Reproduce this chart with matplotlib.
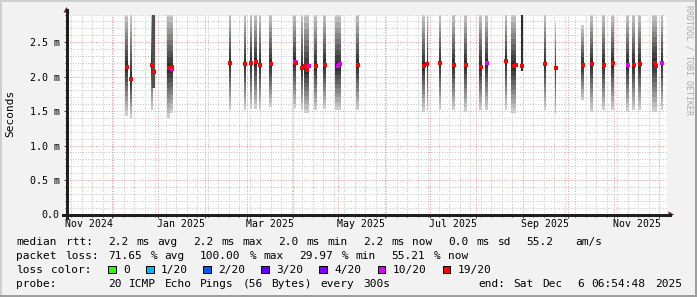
import re
import numpy as np
import pandas as pd
import matplotlib
matplotlib.use('Agg')
import matplotlib.pyplot as plt
import matplotlib.dates as mdates
import matplotlib.transforms as mtrans
from matplotlib.ticker import MultipleLocator, FuncFormatter
from matplotlib.patches import Rectangle, Polygon
from matplotlib.lines import Line2D

W, H = 697, 297
MONO = 'DejaVu Sans Mono'

# ---------------- data ----------------
graph_end = pd.Timestamp('2025-12-06 06:54:48')
graph_days = 400

smoke_date = ['2024-12-11', '2024-12-14', '2024-12-28', '2025-01-08', '2025-01-10',
              '2025-02-18', '2025-02-28', '2025-03-04', '2025-03-07', '2025-03-10',
              '2025-03-17', '2025-04-02', '2025-04-07', '2025-04-10', '2025-04-16',
              '2025-04-22', '2025-05-01', '2025-05-14', '2025-06-27', '2025-06-29 12:00',
              '2025-07-08', '2025-07-17', '2025-07-25', '2025-08-04', '2025-08-08',
              '2025-08-21', '2025-08-26', '2025-09-16', '2025-09-23', '2025-10-11',
              '2025-10-17', '2025-10-25', '2025-10-31', '2025-11-10', '2025-11-14',
              '2025-11-18', '2025-11-28', '2025-12-03']
smoke_width = [2.0, 0.8, 0.9, 1.5, 2.0,
               0.8, 0.8, 1.5, 2.0, 0.8,
               1.5, 2.5, 1.0, 3.5, 2.0,
               2.0, 3.5, 1.5, 1.5, 0.8,
               1.0, 1.5, 2.0, 2.0, 2.0,
               1.0, 3.0, 0.8, 1.2, 1.5,
               1.5, 1.5, 1.5, 1.5, 1.5,
               1.5, 3.0, 1.0]
smoke_low = [1.43, 1.40, 1.51, 1.40, 1.47,
             1.51, 1.51, 1.53, 1.53, 1.51,
             1.56, 1.54, 1.51, 1.47, 1.51,
             1.53, 1.51, 1.51, 1.49, 1.51,
             1.51, 1.51, 1.49, 1.51, 1.51,
             1.51, 1.47, 1.51, 1.46, 1.66,
             1.49, 1.51, 1.51, 1.49, 1.51,
             1.51, 1.49, 1.51]
smoke_median = [2.14, 1.96, 2.17, 2.12, 2.11,
                2.20, 2.18, 2.20, 2.21, 2.17,
                2.18, 2.21, 2.13, 2.10, 2.15,
                2.17, 2.15, 2.17, 2.15, 2.18,
                2.19, 2.17, 2.17, 2.14, 2.19,
                2.23, 2.15, 2.18, 2.12, 2.17,
                2.18, 2.17, 2.19, 2.17, 2.17,
                2.18, 2.20, 2.19]
smoke_high = [2.95, 2.95, 2.95, 2.95, 2.95,
              2.95, 2.95, 2.95, 2.95, 2.95,
              2.95, 2.95, 2.95, 2.95, 2.95,
              2.95, 2.95, 2.95, 2.95, 2.95,
              2.95, 2.95, 2.95, 2.95, 2.95,
              2.95, 2.95, 2.95, 2.77, 2.75,
              2.95, 2.95, 2.95, 2.95, 2.95,
              2.95, 2.95, 2.95]
smoke_loss = ['19/20', '19/20', '19/20', '19/20', '10/20',
              '19/20', '19/20', '19/20', '19/20', '19/20',
              '19/20', '10/20', '19/20', '19/20', '19/20',
              '19/20', '10/20', '19/20', '19/20', '19/20',
              '19/20', '19/20', '19/20', '19/20', '10/20',
              '19/20', '19/20', '19/20', '19/20', '19/20',
              '19/20', '19/20', '19/20', '10/20', '19/20',
              '19/20', '19/20', '10/20']

# dense (dark) smoke columns
dense_date = ['2024-12-29', '2025-08-31 18:00']
dense_width = [1.5, 1.7]
dense_low = [1.83, 2.08]
dense_high = [2.95, 2.95]
dense_median = [2.07, 2.15]
dense_loss = ['19/20', '19/20']

# further median marks inside wide columns
extra_date = ['2025-01-10 14:00', '2025-04-03', '2025-04-09', '2025-04-11 16:00',
              '2025-05-02 12:00', '2025-08-27 12:00', '2025-11-29']
extra_value = [2.14, 2.20, 2.15, 2.16, 2.18, 2.17, 2.16]
extra_loss = ['19/20', '19/20', '19/20', '10/20', '10/20', '19/20', '19/20']

loss_labels = ['0', '1/20', '2/20', '3/20', '4/20', '10/20', '19/20']
loss_colors = ['#26ff00', '#00b8ff', '#0059ff', '#5e00ff', '#7e00ff', '#dd00ff', '#ff0000']

label_months = ['2024-11-01', '2025-01-01', '2025-03-01', '2025-05-01',
                '2025-07-01', '2025-09-01', '2025-11-01']

y_max = 2.9
legend_rtt = 'median rtt:  2.2 ms avg  2.2 ms max  2.0 ms min  2.2 ms now  0.0 ms sd  55.2   am/s'
legend_loss = 'packet loss: 71.65 % avg  100.00 % max  29.97 % min  55.21 % now'
legend_color = 'loss color:'
legend_probe = 'probe:       20 ICMP Echo Pings (56 Bytes) every 300s'
legend_end = 'end: Sat Dec  6 06:54:48 2025'
watermark = 'RRDTOOL / TOBI OETIKER'

# ---------------- drawing ----------------
loss_map = dict(zip(loss_labels, loss_colors))


def fx(x):
    return x / W


def fy(y):
    return 1 - y / H


def dnum(s):
    return mdates.date2num(pd.Timestamp(s).to_pydatetime())


fig = plt.figure(figsize=(W / 100, H / 100), dpi=100, facecolor='#F2F2F2')
ax = fig.add_axes([fx(67), fy(214.5), 600 / W, 200 / H])
ax.set_facecolor('white')
start = graph_end - pd.Timedelta(days=graph_days)
ax.set_xlim(dnum(start), dnum(graph_end))
ax.set_ylim(0, y_max)

# grid
ax.xaxis.set_major_locator(mdates.MonthLocator())
ax.xaxis.set_minor_locator(mdates.WeekdayLocator(byweekday=mdates.MO))
ax.yaxis.set_major_locator(MultipleLocator(0.5))
ax.yaxis.set_minor_locator(MultipleLocator(0.1))
ax.grid(which='minor', color='#c4c4c4', lw=0.72, ls=(0, (1, 1.6)))
ax.grid(which='major', color='#e59a9a', lw=0.72, ls=(0, (1, 1.6)))
ax.set_axisbelow(True)
for s in ax.spines.values():
    s.set_visible(False)

# smoke
N = 10
grays = ['#%02x%02x%02x' % (g, g, g) for g in np.linspace(0xcc, 0x30, N).astype(int)]
for d, w, lo, med, hi in zip(smoke_date, smoke_width, smoke_low, smoke_median, smoke_high):
    x = dnum(d)
    for k in range(N):
        f = 1 - k / N
        b = med - (med - lo) * f
        t = med + (hi - med) * f
        ax.bar(x, t - b, bottom=b, width=w, color=grays[k], linewidth=0, zorder=2)
dense_gray = ['#505050', '#2c2c2c']
for d, w, lo, hi, g in zip(dense_date, dense_width, dense_low, dense_high, dense_gray):
    ax.bar(dnum(d), hi - lo, bottom=lo, width=w, color=g, linewidth=0, zorder=2)

# medians
for d, m, l in zip(smoke_date + dense_date + extra_date,
                   smoke_median + dense_median + extra_value,
                   smoke_loss + dense_loss + extra_loss):
    ax.plot(dnum(d), m, 's', ms=2.3, mew=0, color=loss_map[l], zorder=4)

# ticks
ax.tick_params(which='both', direction='out', color='#1f1f1f', width=0.6)
ax.tick_params(which='major', length=2.2)
ax.tick_params(which='minor', length=1.4)
ax.tick_params(axis='x', which='both', labelbottom=False)
ax.tick_params(axis='y', which='major', labelsize=7.2, pad=3, labelcolor='black')
ax.yaxis.set_major_formatter(FuncFormatter(lambda v, p: '0.0' if abs(v) < 1e-9 else f'{v:.1f} m'))
for lab in ax.get_yticklabels():
    lab.set_family(MONO)

# month labels centred in their month
blend = mtrans.blended_transform_factory(ax.transData, fig.transFigure)
for m in label_months:
    ts = pd.Timestamp(m)
    mid = ts + pd.Timedelta(days=ts.days_in_month / 2)
    ax.text(dnum(mid), fy(227.3), ts.strftime('%b %Y'), transform=blend, ha='center',
            va='baseline', fontsize=7.1, family=MONO, clip_on=False)

# axis lines and arrows
axis_col = '#1f1f1f'
arrow_col = '#801f1f'
fig.add_artist(Line2D([fx(63), fx(670)], [fy(214.5), fy(214.5)], color=axis_col, lw=0.8, antialiased=False))
fig.add_artist(Line2D([fx(66.5), fx(66.5)], [fy(218), fy(10)], color=axis_col, lw=0.8, antialiased=False))
fig.add_artist(Polygon([(fx(674), fy(214.5)), (fx(668.5), fy(211.5)), (fx(668.5), fy(217.5))],
                       closed=True, color=arrow_col, lw=0))
fig.add_artist(Polygon([(fx(66.5), fy(7)), (fx(63.5), fy(12.5)), (fx(69.5), fy(12.5))],
                       closed=True, color=arrow_col, lw=0))

# y label
fig.text(fx(10), fy(113.5), 'Seconds', rotation=90, ha='center', va='center', fontsize=8, family=MONO)

# legend (monospace grid)
ADV = 7.08


def mono(x0, ybase, s, size=8.0):
    for mt in re.finditer(r'\S+', s):
        fig.text(fx(x0 + mt.start() * ADV), fy(ybase), mt.group(), ha='left', va='baseline',
                 fontsize=size, family=MONO)


mono(16, 245, legend_rtt)
mono(16, 259, legend_loss)
mono(16, 273, legend_color)
mono(16, 287, legend_probe)
mono(478.3, 287, legend_end)

box_x = [108.3, 146, 203.3, 261, 319, 377.7, 442.7]
for bx, lab, col in zip(box_x, loss_labels, loss_colors):
    fig.add_artist(Rectangle((fx(bx), fy(273)), 7.5 / W, 7.5 / H, facecolor=col,
                             edgecolor='black', lw=0.72))
    fig.text(fx(bx + 15), fy(273), lab, ha='left', va='baseline', fontsize=8.0, family=MONO)

# watermark
fig.text(fx(689), fy(5), watermark, rotation=270, ha='center', va='top', fontsize=6,
         family=MONO, color='#ababab')

# 3D border
fig.add_artist(Rectangle((0, fy(2)), 1, 2 / H, color='#cfcfcf', lw=0))
fig.add_artist(Rectangle((0, 0), 2 / W, 1, color='#cfcfcf', lw=0))
fig.add_artist(Rectangle((0, 0), 1, 2 / H, color='#9e9e9e', lw=0))
fig.add_artist(Rectangle((fx(695), 0), 2 / W, 1, color='#9e9e9e', lw=0))

fig.savefig('out.png', dpi=100, facecolor=fig.get_facecolor())
